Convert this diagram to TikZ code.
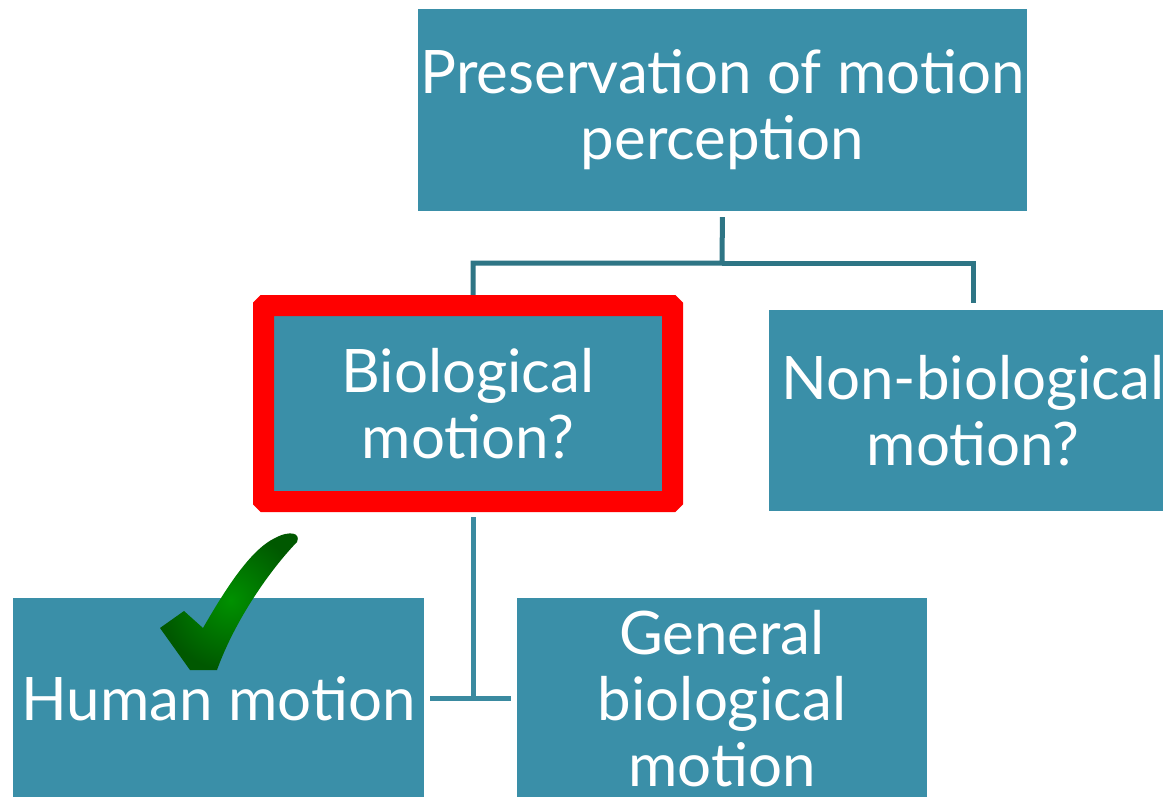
\documentclass[tikz,border=0pt]{standalone}
\usepackage{fontspec}
\setmainfont{Lato}
\usetikzlibrary{backgrounds}
\definecolor{boxteal}{RGB}{58,143,168}
\definecolor{lineteal}{RGB}{46,117,133}
\definecolor{lineteal2}{RGB}{58,138,160}
\definecolor{chkin}{RGB}{0,145,0}
\definecolor{chkout}{RGB}{0,88,0}
\begin{document}
\begin{tikzpicture}[x=1pt,y=-1pt,
  box/.style={rectangle, fill=boxteal, inner sep=0pt, text=white, align=center,
    font=\fontsize{60}{66}\selectfont},
  conn/.style={draw=lineteal, line width=5pt},
  conn2/.style={draw=lineteal2, line width=5pt}]
\useasboundingbox (0,0) rectangle (1163,796);
\clip (0,0) rectangle (1163,796);
\node[box, minimum width=609pt, minimum height=202pt] (top) at (722.5,110) {Preservation of motion\\perception};
\node[box, draw=red, line width=21pt, rounded corners=1.5pt, minimum width=409pt, minimum height=196pt] (bio) at (468,403.5) {Biological\\motion?};
\node[box, minimum width=408pt, minimum height=201pt] (non) at (973,410.5) {Non-biological\\motion?};
\node[box, minimum width=411pt, minimum height=202pt] (hum) at (218.5,699) {Human motion};
\node[box, minimum width=410pt, minimum height=202pt] (gen) at (722,699) {General\\biological\\motion};
\begin{scope}[on background layer]
\coordinate (jt) at (722,263);
\draw[conn, shorten <=6pt] (top.south) -- (jt) -| ([xshift=5pt]bio.north);
\draw[conn, shorten >=7pt] (jt) -| (non.north);
\draw[conn2, shorten <=5pt] ([xshift=5pt]bio.south) -- ([xshift=5pt]bio.south |- hum.east);
\draw[conn2, shorten <=6pt, shorten >=6pt] ([yshift=1pt]hum.east) -- ([yshift=1pt]gen.west);
\end{scope}
\shade[inner color=chkin, outer color=chkout]
  (160,628) -- (184,611) -- (203,628)
  .. controls (225,590) and (250,550) .. (275,538)
  .. controls (290,530) and (301,533) .. (297,542)
  .. controls (270,570) and (235,620) .. (217,670)
  -- (190,670) -- cycle;
\end{tikzpicture}
\end{document}
